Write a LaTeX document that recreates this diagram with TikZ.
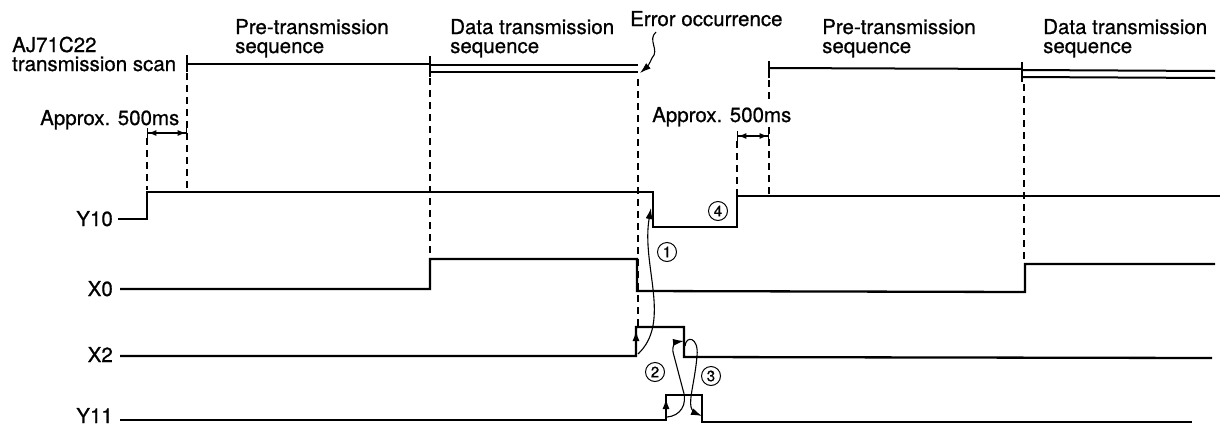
\documentclass[tikz,border=0pt]{standalone}
\usepackage{fontspec}
\setmainfont{TeX Gyre Heros}[FakeBold=0.7]
\usetikzlibrary{arrows.meta}
\begin{document}
\begin{tikzpicture}[x=1pt,y=-1pt,
  sig/.style={line width=2.3pt},
  scan/.style={line width=2pt},
  dsh/.style={line width=1.3pt, dash pattern=on 7pt off 5pt},
  lbl/.style={anchor=base west, inner sep=0pt, font=\fontsize{20.5}{18}\selectfont},
  sigl/.style={anchor=base east, inner sep=0pt, text depth=0pt, font=\fontsize{20.5}{18}\selectfont},
  num/.style={circle, draw, line width=1pt, inner sep=0pt, minimum size=19pt, font=\fontsize{15}{15}\selectfont},
  cause/.style={line width=1.1pt, -{Latex[length=11pt,width=7pt]}},
  edgetip/.style={line width=2pt, -{Latex[length=11pt,width=7pt]}},
  dim/.style={line width=1.3pt, {Bar[width=10pt]Latex[length=8pt,width=6pt]}-{Latex[length=8pt,width=6pt]Bar[width=10pt]}}
]
\useasboundingbox (0,0) rectangle (1220,426);

% ---- text labels ----
\node[lbl] (aj) at (12,52) {AJ71C22};
\node[lbl] (ts) at (12,71) {transmission scan};
\node[lbl] (pre1a) at (235,34) {Pre-transmission};
\node[lbl] (pre1b) at (235,53) {sequence};
\node[lbl] (dat1a) at (450,34) {Data transmission};
\node[lbl] (dat1b) at (450,53) {sequence};
\node[lbl] (err) at (630,26) {Error occurrence};
\node[lbl] (pre2a) at (822,34) {Pre-transmission};
\node[lbl] (pre2b) at (822,53) {sequence};
\node[lbl] (dat2a) at (1043,34) {Data transmission};
\node[lbl] (dat2b) at (1043,53) {sequence};
\node[lbl] (ap1) at (40,125) {Approx. 500ms};
\node[lbl] (ap2) at (652,122) {Approx. 500ms};

\node[sigl] (lY10) at (113,226) {Y10};
\node[sigl] (lX0) at (113,296) {X0};
\node[sigl] (lX2) at (113,362) {X2};
\node[sigl] (lY11) at (113,423) {Y11};

% ---- scan line ----
\draw[scan] (187,55) -- (187,72);
\draw[scan] (187,64) -- (430,64);
\draw[scan] (430,56) -- (430,77);
\draw[scan] (430,65) -- (638,65);
\draw[scan] (430,72) -- (638,72);
\draw[scan] (769,61) -- (769,78);
\draw[scan] (769,68) -- (1022,69);
\draw[scan] (1022,62) -- (1022,82);
\draw[scan] (1022,70) -- (1215,71);
\draw[scan] (1022,77) -- (1215,78);

% ---- dashed guides ----
\draw[dsh] (147,138) -- (147,190);
\draw[dsh] (187,73) -- (187,190);
\draw[dsh] (430,78) -- (430,258);
\draw[dsh] (638,79) -- (638,326);
\draw[dsh] (737,141) -- (737,195);
\draw[dsh] (769,80) -- (769,102);
\draw[dsh] (769,127) -- (769,195);
\draw[dsh] (1024,84) -- (1024,263);

% ---- dimension arrows ----
\coordinate (d1a) at (147,133); \coordinate (d1b) at (187,133);
\coordinate (d2a) at (737,136); \coordinate (d2b) at (769,136);
\draw[dim] (d1a) -- (d1b);
\draw[dim] (d2a) -- (d2b);

% ---- waveforms ----
\coordinate (y10s) at (118,219);
\coordinate (x0s) at (120,289);
\coordinate (x2s) at (120,356);
\coordinate (y11s) at (120,420);
\draw[sig] (y10s) -- (147,219) -- (147,192) -- (653,192) -- (653,227) -- (737,227) -- (737,196) -- (1220,196);
\draw[sig] (x0s) -- (430,289) -- (430,259) -- (637,259) -- (637,291) -- (1025,292) -- (1025,264) -- (1215,264);
\draw[sig] (x2s) -- (636,356) -- (636,327) -- (684,327) -- (684,357) -- (1212,358);
\draw[sig] (y11s) -- (666,420) -- (666,395) -- (702,395) -- (702,422) -- (1192,422);

% ---- edge arrowheads ----
\draw[edgetip] (636,350) -- (636,330);
\draw[edgetip] (666,415) -- (666,398);

% ---- causal arrows ----
\coordinate (c1s) at (638,354); \coordinate (c1e) at (651,208);
\draw[cause] (c1s) .. controls (672,322) and (641,265) .. (c1e);
\coordinate (c2s) at (667,417); \coordinate (c2e) at (684,341);
\draw[cause] (c2s) .. controls (680,416) and (688,405) .. (683,390) -- (673,352) .. controls (672,345) and (676,342) .. (c2e);
\coordinate (c3s) at (685,346); \coordinate (c3e) at (702,416);
\draw[cause] (c3s) .. controls (686,335) and (699,337) .. (697,356) .. controls (695,380) and (689,398) .. (691,407) .. controls (692,411) and (695,413) .. (c3e);
\coordinate (erre) at (640,73);
\draw[cause] (656,32) .. controls (647,40) and (660,50) .. (652,58) .. controls (650,63) and (647,67) .. (erre);

% ---- circled numbers ----
\node[num] (n1) at (667,252) {1};
\node[num] (n2) at (655,372) {2};
\node[num] (n3) at (711,376) {3};
\node[num] (n4) at (718,211) {4};
\end{tikzpicture}
\end{document}
